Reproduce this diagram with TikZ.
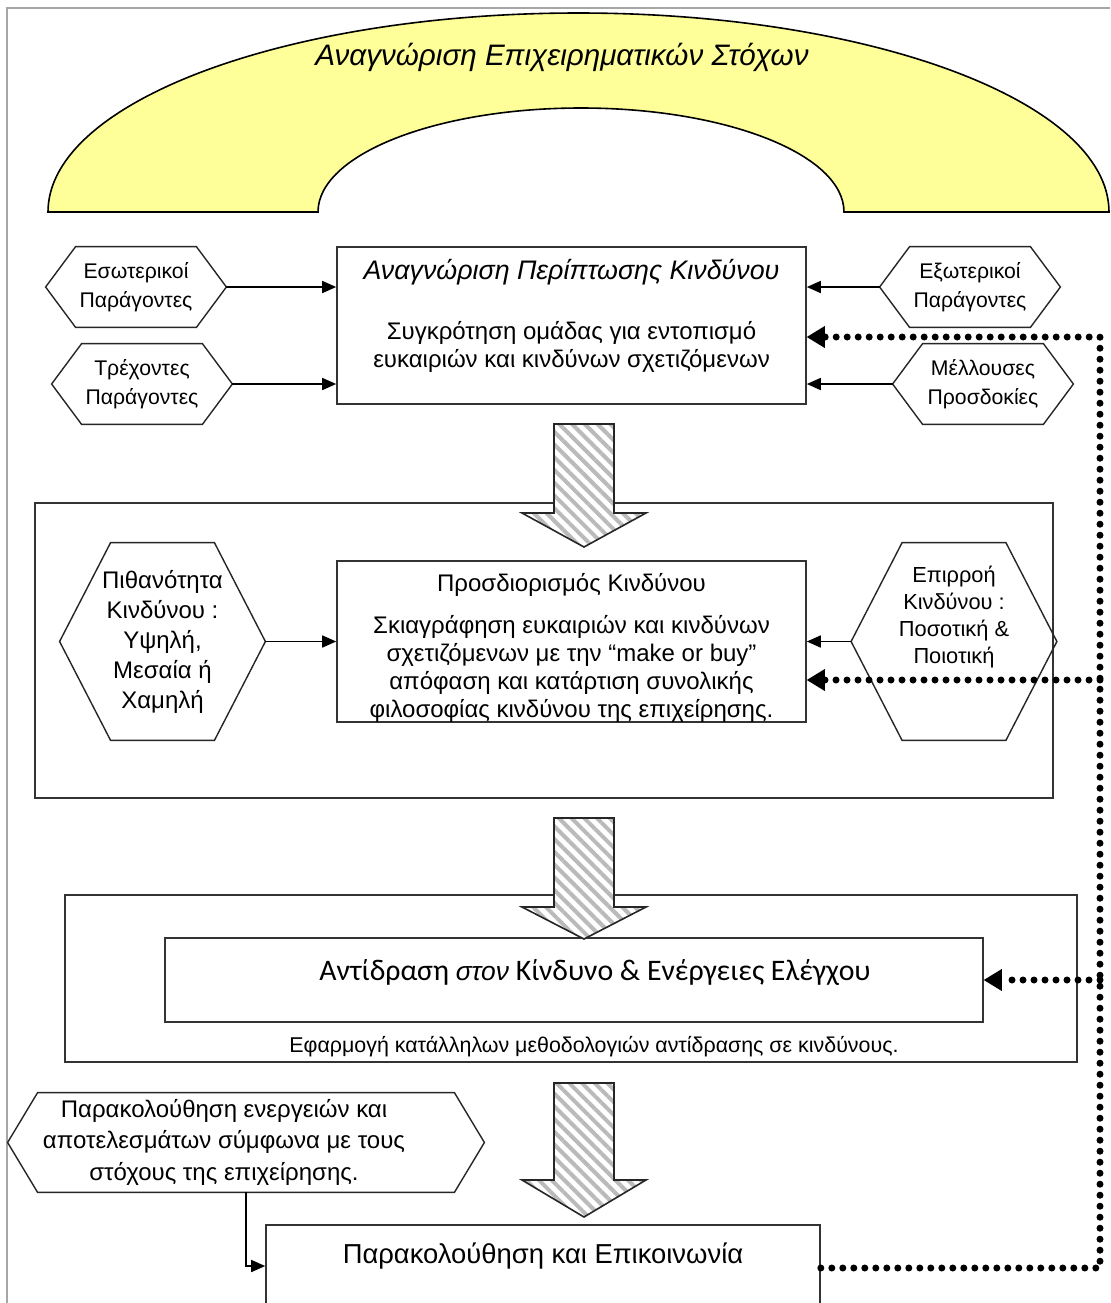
\documentclass[tikz,border=0pt]{standalone}
\usepackage{fontspec}
\setmainfont{Liberation Sans}
\newfontfamily\calibrifont{Carlito}
\usetikzlibrary{arrows.meta,calc,patterns.meta}

\definecolor{archyellow}{RGB}{255,255,153}

% hexagon outline round a named node, #2 = corner inset
\newcommand{\hexframe}[2]{%
  \draw[hexline] (#1.west) -- ($(#1.north west)+(#2,0)$) -- ($(#1.north east)-(#2,0)$)
    -- (#1.east) -- ($(#1.south east)-(#2,0)$) -- ($(#1.south west)+(#2,0)$) -- cycle;}

\begin{document}
\begin{tikzpicture}[x=0.5pt, y=-0.5pt,
  box/.style={draw=black!80, line width=0.8pt, fill=white, align=center, inner sep=0pt},
  factor/.style={align=center, inner sep=0pt, minimum width=90pt, minimum height=40pt, font=\fontsize{10.6}{14.5}\selectfont},
  bighex/.style={align=center, inner sep=0pt, minimum width=102.5pt, minimum height=98.5pt, font=\fontsize{12}{15}\selectfont},
  hexline/.style={draw=black!85, line width=0.7pt},
  arr/.style={line width=0.8pt, -{Triangle[length=7pt,width=6pt]}},
  feedback/.style={line width=3.5pt, line cap=round, dash pattern=on 0pt off 5.5pt, -{Triangle[length=9pt,width=11pt,line width=0pt]}},
  bigarrow/.style={draw=black!85, line width=0.8pt, preaction={fill=white}, pattern={Lines[angle=-45,distance=4.5pt,line width=2pt]}, pattern color=black!27}]
  \useasboundingbox (0,0) rectangle (1110,1303);
  \draw[gray!70, line width=0.6pt] (7,1303) -- (7,8) -- (1110,8);

  % goals arch
  \draw[line width=0.8pt, fill=archyellow] (48,212) arc[start angle=180, end angle=360, x radius=530.5, y radius=199]
    -- (844,212) arc[start angle=0, end angle=-180, x radius=263, y radius=104] -- cycle;
  \node[font=\fontsize{14.8}{17}\selectfont\itshape] (goals) at (562,57) {Αναγνώριση Επιχειρηματικών Στόχων};

  % stage 1
  \node[box, minimum width=234.5pt, minimum height=78.5pt, text depth=12pt, font=\fontsize{12}{14}\selectfont] (ident) at (571.5,325.5)
    {{\fontsize{13.4}{16}\selectfont\itshape Αναγνώριση Περίπτωσης Κινδύνου}\\[16pt]Συγκρότηση ομάδας για εντοπισμό\\ευκαιριών και κινδύνων σχετιζόμενων};
  \node[factor] (intern) at (136,287) {Εσωτερικοί\\Παράγοντες};
  \node[factor] (curr) at (142,384) {Τρέχοντες\\Παράγοντες};
  \node[factor] (extern) at (970,287) {Εξωτερικοί\\Παράγοντες};
  \node[factor] (future) at (983,384) {Μέλλουσες\\Προσδοκίες};
  \hexframe{intern}{30} \hexframe{curr}{30} \hexframe{extern}{30} \hexframe{future}{30}
  \draw[arr] (intern.east) -- (ident.west |- intern.east);
  \draw[arr] (curr.east) -- (ident.west |- curr.east);
  \draw[arr] (extern.west) -- (ident.east |- extern.west);
  \draw[arr] (future.west) -- (ident.east |- future.west);

  % stage 2
  \node[box, minimum width=509pt, minimum height=147.5pt] (stageB) at (544,650.5) {};
  \node[box, minimum width=234.5pt, minimum height=78.5pt, text height=78pt, font=\fontsize{12}{14}\selectfont] (assess) at (571.5,641.5)
    {Προσδιορισμός Κινδύνου\\[7pt]Σκιαγράφηση ευκαιριών και κινδύνων\\σχετιζόμενων με την “make or buy”\\απόφαση και κατάρτιση συνολικής\\φιλοσοφίας κινδύνου της επιχείρησης.};
  \node[bighex] (prob) at (162.5,641.5) {Πιθανότητα\\Κινδύνου :\\Υψηλή,\\Μεσαία ή\\Χαμηλή};
  \node[bighex, text depth=27pt, font=\fontsize{10.9}{13.5}\selectfont] (impact) at (954,641.5) {Επιρροή\\Κινδύνου :\\Ποσοτική \&\\Ποιοτική};
  \hexframe{prob}{51} \hexframe{impact}{51}
  \draw[arr] (prob.east) -- (assess.west);
  \draw[arr] (impact.west) -- (assess.east);

  % stage 3
  \node[box, minimum width=506pt, minimum height=83.5pt] (stageC) at (571,978.5) {};
  \node[box, minimum width=409pt, minimum height=42pt, text depth=10pt, font=\calibrifont\fontsize{14.9}{17}\selectfont] (respond) at (574,980)
    {\null\hspace{21pt}Αντίδραση {\normalfont\fontsize{13.2}{17}\selectfont\itshape στον} Κίνδυνο \& Ενέργειες Ελέγχου};
  \node[font=\fontsize{10.7}{12}\selectfont] (applynote) at (594,1047) {Εφαρμογή κατάλληλων μεθοδολογιών αντίδρασης σε κινδύνους.};

  % stage 4
  \node[inner sep=0pt, minimum width=238pt, minimum height=49.5pt, font=\fontsize{12}{15.75}\selectfont] (monitor) at (246,1142.5)
    {\begin{tabular}{@{}c@{}}Παρακολούθηση ενεργειών και\\αποτελεσμάτων σύμφωνα με τους\\στόχους της επιχείρησης.\end{tabular}\hspace{22pt}\null};
  \hexframe{monitor}{30}
  \node[box, minimum width=277pt, minimum height=41pt, text depth=13pt, font=\fontsize{13.7}{16}\selectfont] (watch) at (543,1266) {Παρακολούθηση και Επικοινωνία};
  \draw[arr] (monitor.south) |- (watch.west);

  % hatched flow arrows
  \foreach \t/\b/\e in {424/513/547, 818/907/939, 1083/1180/1217}
    \draw[bigarrow] (554,\t) -- (614,\t) -- (614,\b) -- (646,\b) -- (584,\e) -- (522,\b) -- (554,\b) -- cycle;

  % feedback loop
  \coordinate (loopB) at (1100,1268);
  \coordinate (loopT) at (1100,337);
  \coordinate (tapA) at (1100,680);
  \coordinate (tapB) at (1100,980);
  \draw[feedback] (watch.east |- loopB) -- (loopB) -- (loopT) -- (ident.east |- loopT);
  \draw[feedback] (tapA) -- (assess.east |- tapA);
  \draw[feedback] (tapB) -- (respond.east |- tapB);
\end{tikzpicture}
\end{document}
